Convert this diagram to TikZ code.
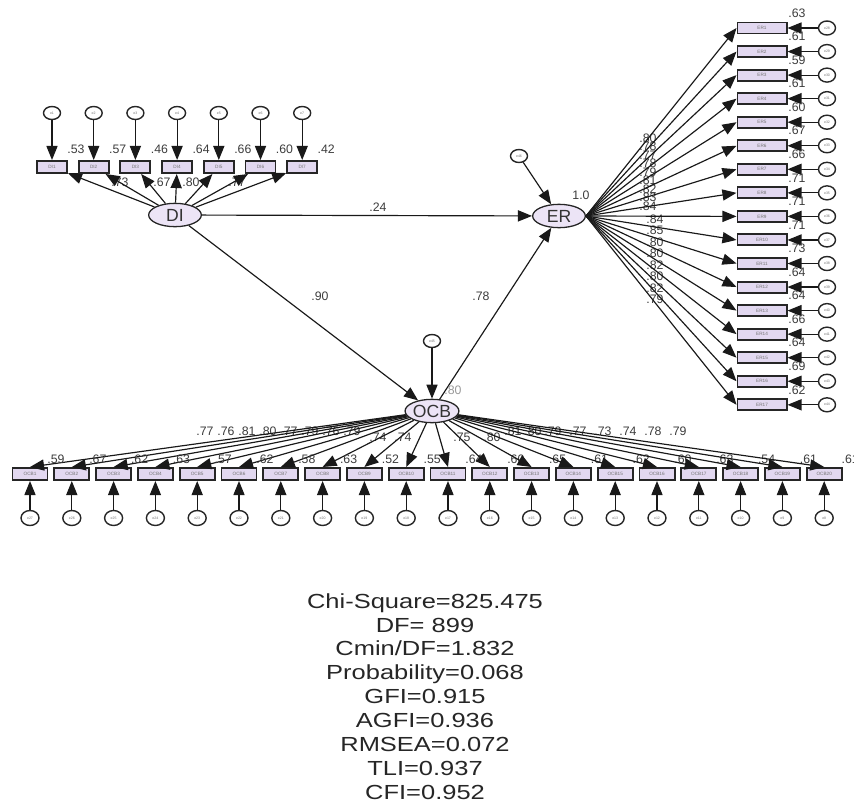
\documentclass[tikz,border=0pt]{standalone}
\usepackage{fontspec}
\setmainfont{Liberation Sans}
\usepackage{graphicx}
\usetikzlibrary{arrows.meta,positioning,shapes.geometric}
\definecolor{boxfill}{RGB}{226,216,240}
\definecolor{latfill}{RGB}{236,228,246}
\definecolor{numgray}{RGB}{60,60,60}
\tikzset{
    % 带箭头的路径
    semarrow/.style={
        line width=1pt,
        black!90,
        -{Triangle[length=12pt, width=9.5pt]}
    },
    % 观测变量方框
    itembox/.style={
        rectangle,
        draw=black!85,
        line width=1.7pt,
        fill=boxfill,
        inner sep=0pt,
        minimum height=0.36cm,
        font=\fontsize{4}{4}\selectfont,
        text=black!55
    },
    % 误差项
    errcirc/.style={
        ellipse,
        draw=black!85,
        line width=1.2pt,
        fill=white,
        inner sep=0pt,
        minimum width=0.51cm,
        minimum height=0.39cm,
        font=\fontsize{3}{3}\selectfont,
        text=black!55
    },
    % 潜变量
    latent/.style={
        ellipse,
        draw=black!85,
        line width=1.1pt,
        fill=latfill,
        inner sep=0pt,
        minimum width=1.58cm,
        minimum height=0.7cm,
        font=\fontsize{15}{15}\selectfont,
        text=black!80
    },
    coef/.style={
        inner sep=0pt,
        font=\fontsize{10.5}{11}\selectfont,
        text=numgray
    }
}

\begin{document}
\begin{tikzpicture}[x=0.03cm,y=-0.03cm]
	\useasboundingbox (0,0) rectangle (854,802);
	
	% 潜变量
	\node[latent] (di) at (175,215) {DI};
	\node[latent] (er) at (559,216) {ER};
	\node[latent] (ocb) at (432,411) {OCB};
	\node[errcirc] (eer) at (519,156) {e46};
	\node[errcirc] (eocb) at (432,341) {e45};
	
	% 结构路径
	\draw[semarrow] (eer) -- (er);
	\draw[semarrow] (eocb) -- (ocb);
	\draw[semarrow] (di) -- (er);
	\draw[semarrow] (di) -- (ocb);
	\draw[semarrow] (ocb) -- (er);
	\node[coef] (p1) at (378,207) {.24};
	\node[coef] (p2) at (320,296) {.90};
	\node[coef] (p3) at (481,296) {.78};
	\node[coef,text=black!40] (r2ocb) at (453,390) {.80};
	\node[coef] (r2er) at (581,195) {1.0};
	
	% DI 指标
	\foreach \x/\v in {120/.73,162/.67,191/.80,237/.77}
		\node[coef] (ld\x) at (\x,182) {\v};
	\foreach \i/\r in {1/.53,2/.57,3/.46,4/.64,5/.66,6/.60,7/.42}{
		\node[itembox,minimum width=0.9cm] (di\i) at ({52+41.7*(\i-1)},167) {DI\i};
		\node[errcirc] (ed\i) at ({52+41.7*(\i-1)},113) {e\i};
		\draw[semarrow] (ed\i) -- (di\i);
		\draw[semarrow] (di) -- (di\i);
		\node[coef] (rd\i) at ({76+41.7*(\i-1)},149) {\r};
	}
	
	% ER 指标
	\foreach \v [count=\k] in {.80,.78,.77,.78,.79,.81,.82,.83,.84}
		\node[coef] (le\k) at (648,{138+8.5*(\k-1)}) {\v};
	\foreach \v [count=\k] in {.84,.85,.80,.80,.82,.80,.82,.79}
		\node[coef] (lf\k) at (655,{219+11.5*(\k-1)}) {\v};
	\foreach \i/\r in {1/.63,2/.61,3/.59,4/.61,5/.60,6/.67,7/.66,8/.71,9/.71,10/.71,11/.73,12/.64,13/.64,14/.66,15/.64,16/.69,17/.62}{
		\pgfmathsetmacro{\yy}{28+23.55*(\i-1)}
		\pgfmathtruncatemacro{\en}{27+\i}
		\node[itembox,minimum width=1.47cm,minimum height=0.33cm] (er\i) at (762,\yy) {ER\i};
		\node[errcirc,minimum height=0.42cm] (ee\i) at (827,\yy) {e\en};
		\draw[semarrow] (ee\i) -- (er\i);
		\draw[semarrow] (er.east) -- (er\i.west);
		\node[coef] (re\i) at (797,{\yy-15}) {\r};
	}
	
	% OCB 指标
	\foreach \x/\y/\v [count=\k] in {205/431/.77,226/431/.76,247/431/.81,268/431/.80,289/431/.77,310/431/.79,331/431/.76,352/431/.79,378/437/.74,403/437/.74,462/437/.75,492/437/.80,513/431/.81,533/431/.80,553/431/.79,578/431/.77,603/431/.73,628/431/.74,653/431/.78,678/431/.79}
		\node[coef] (lo\k) at (\x,\y) {\v};
	\foreach \i/\r in {1/.59,2/.67,3/.62,4/.63,5/.57,6/.62,7/.58,8/.63,9/.52,10/.55,11/.64,12/.60,13/.65,14/.61,15/.62,16/.60,17/.63,18/.54,19/.61,20/.61}{
		\pgfmathsetmacro{\xx}{30+41.8*(\i-1)}
		\pgfmathtruncatemacro{\en}{28-\i}
		\node[itembox,minimum width=1.05cm] (ocb\i) at (\xx,474) {OCB\i};
		\node[errcirc,minimum width=0.54cm,minimum height=0.45cm] (eo\i) at (\xx,518) {e\en};
		\draw[semarrow] (eo\i) -- (ocb\i);
		\draw[semarrow] (ocb) -- (ocb\i.north);
		\node[coef] (ro\i) at ({\xx+26},459) {\r};
	}
	
	% 拟合指标
	\node[text=black!85,inner sep=0pt] (fit) at (425,699) {\scalebox{1.25}[1]{\fontsize{17.4}{20.4}\selectfont
		\begin{tabular}{@{}c@{}}
			Chi-Square=825.475\\
			DF= 899\\
			Cmin/DF=1.832\\
			Probability=0.068\\
			GFI=0.915\\
			AGFI=0.936\\
			RMSEA=0.072\\
			TLI=0.937\\
			CFI=0.952
		\end{tabular}}};
\end{tikzpicture}
\end{document}
